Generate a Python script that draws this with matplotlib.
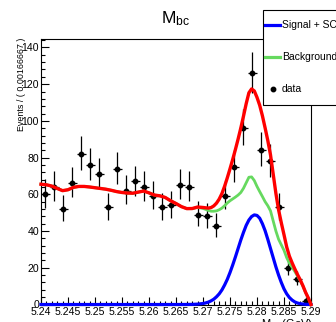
import numpy as np
import matplotlib
matplotlib.use('Agg')
import matplotlib.pyplot as plt
from matplotlib.lines import Line2D
from matplotlib.patches import Rectangle

plt.rcParams['font.family'] = ['Liberation Sans', 'DejaVu Sans']
plt.rcParams['mathtext.fontset'] = 'custom'
plt.rcParams['mathtext.rm'] = 'Liberation Sans'
plt.rcParams['mathtext.it'] = 'Liberation Sans'

# binning of the data histogram
x_lo, x_hi, nbins = 5.24, 5.29, 30

# events per bin
counts = [60, 64, 52, 66, 82, 76, 71, 53, 74, 62,
          67, 64, 59, 53, 54, 65, 64, 49, 48, 43,
          59, 75, 96, 126, 84, 78, 53, 20, 14, 2]

# sampling points of the fitted curves
curve_x = [5.240, 5.241, 5.242, 5.243, 5.244, 5.245, 5.246, 5.247, 5.248, 5.249,
           5.250, 5.251, 5.252, 5.253, 5.254, 5.255, 5.256, 5.257, 5.258, 5.259,
           5.260, 5.261, 5.262, 5.263, 5.264, 5.265, 5.266, 5.267, 5.268, 5.269,
           5.270,
           5.2705, 5.2710, 5.2715, 5.2720, 5.2725, 5.2730, 5.2735, 5.2740, 5.2745, 5.2750,
           5.2755, 5.2760, 5.2765, 5.2770, 5.2775, 5.2780, 5.2785, 5.2790, 5.2795, 5.2800,
           5.2805, 5.2810, 5.2815, 5.2820, 5.2825, 5.2830, 5.2835, 5.2840, 5.2845, 5.2850,
           5.2855, 5.2860, 5.2865, 5.2870, 5.2875, 5.2880, 5.2885, 5.2890, 5.2895, 5.2900]

# background component
bkg = [65.5, 65.2, 64.5, 63.2, 62.0, 62.5, 63.8, 64.3, 64.3, 64.0,
       63.6, 63.2, 62.8, 62.2, 61.5, 61.0, 60.7, 60.6, 61.2, 61.8,
       60.8, 59.6, 59.2, 58.3, 56.5, 55.0, 53.3, 52.2, 52.2, 52.9,
       52.3,
       51.8, 51.2, 50.8, 50.8, 51.0, 51.6, 52.5, 53.8, 55.3, 56.5,
       57.5, 58.5, 59.6, 61.0, 63.3, 66.3, 69.3, 69.5, 67.5, 64.3,
       61.5, 58.8, 56.0, 53.8, 51.0, 45.5, 40.0, 35.5, 32.5, 29.5,
       25.5, 22.5, 20.3, 18.0, 15.5, 13.0, 10.0, 6.5, 3.5, 0.0]

# signal + SCF component
sig = [0, 0, 0, 0, 0, 0, 0, 0, 0, 0,
       0, 0, 0, 0, 0, 0, 0, 0, 0, 0,
       0, 0, 0, 0, 0, 0, 0.01, 0.02, 0.07, 0.2,
       0.54,
       0.86, 1.32, 1.99, 2.9, 4.2, 5.8, 7.9, 10.6, 13.7, 17.4,
       21.5, 25.9, 30.5, 35.1, 39.3, 43.1, 46.0, 47.9, 48.8, 48.5,
       47.0, 44.0, 40.2, 35.5, 30.5, 25.5, 20.5, 16.0, 12.0, 8.5,
       5.8, 3.8, 2.4, 1.4, 0.8, 0.45, 0.25, 0.1, 0.05, 0.0]

legend_labels = ['Signal + SCF', 'Background', 'data']

W, H = 336, 322
fig = plt.figure(figsize=(W / 100, H / 100), dpi=100)
ax = fig.add_axes([41 / W, 1 - 304.5 / H, 270 / W, (304.5 - 39) / H])

width = (x_hi - x_lo) / nbins
centers = x_lo + width * (np.arange(nbins) + 0.5)
n = np.array(counts, dtype=float)
err_up = np.sqrt(n + 0.25) + 0.5
err_dn = np.sqrt(n + 0.25) - 0.5

ax.errorbar(centers, n, yerr=[err_dn, err_up], xerr=width / 2, fmt='o', color='black',
            ms=3.2, elinewidth=0.9, capsize=0, zorder=3)

cx = np.array(curve_x)
b = np.array(bkg)
s = np.array(sig)
ax.plot(cx, s, color='#0000ff', lw=2.3, zorder=4, clip_on=False)
ax.plot(cx, b, color='#66d95f', lw=2.0, zorder=4, clip_on=False)
ax.plot(cx, b + s, color='#ff0000', lw=2.4, zorder=5, clip_on=False)

ax.set_xlim(x_lo, x_hi)
ax.set_ylim(0, 144.6)
ax.set_xticks(np.arange(5.24, 5.2901, 0.005))
ax.set_xticks(np.arange(5.24, 5.2901, 0.001), minor=True)
ax.set_xticklabels(['5.24', '5.245', '5.25', '5.255', '5.26', '5.265',
                    '5.27', '5.275', '5.28', '5.285', '5.29'])
ax.set_yticks(np.arange(0, 141, 20))
ax.set_yticks(np.arange(0, 145, 4), minor=True)
ax.tick_params(which='both', direction='in', top=False, right=False, width=0.8,
               labelsize=7.6, pad=1.5)
ax.tick_params(which='major', length=6)
ax.tick_params(which='minor', length=3)
for sp in ax.spines.values():
    sp.set_linewidth(0.8)

fig.text(176 / W, 1 - 23 / H, r'$\mathregular{M_{bc}}$', ha='center', va='baseline', fontsize=12.5)
fig.text(22 / W, 1 - 38 / H, 'Events / ( 0.00166667 )', rotation=90, ha='center', va='top',
         fontsize=6.4)
fig.text(313 / W, 1 - 317 / H, r'$\mathregular{M_{bc}}$ (GeV)', ha='right', va='top', fontsize=8)

# legend box
fig.patches.append(Rectangle((263 / W, 1 - 105 / H), 80 / W, 95 / H, transform=fig.transFigure,
                             facecolor='white', edgecolor='black', lw=0.8, zorder=10))
rows = [25, 57, 89]
fig.lines.append(Line2D([265 / W, 280 / W], [1 - rows[0] / H] * 2, color='#0000ff', lw=2.3,
                        transform=fig.transFigure, zorder=11))
fig.lines.append(Line2D([265 / W, 280 / W], [1 - rows[1] / H] * 2, color='#66d95f', lw=2.3,
                        transform=fig.transFigure, zorder=11))
fig.lines.append(Line2D([273 / W], [1 - rows[2] / H], color='black', marker='o', ms=3.2,
                        transform=fig.transFigure, zorder=11))
for r, lab in zip(rows, legend_labels):
    fig.text(282 / W, 1 - r / H, lab, ha='left', va='center', fontsize=7.5, zorder=12)

fig.savefig('out.png', dpi=100)
